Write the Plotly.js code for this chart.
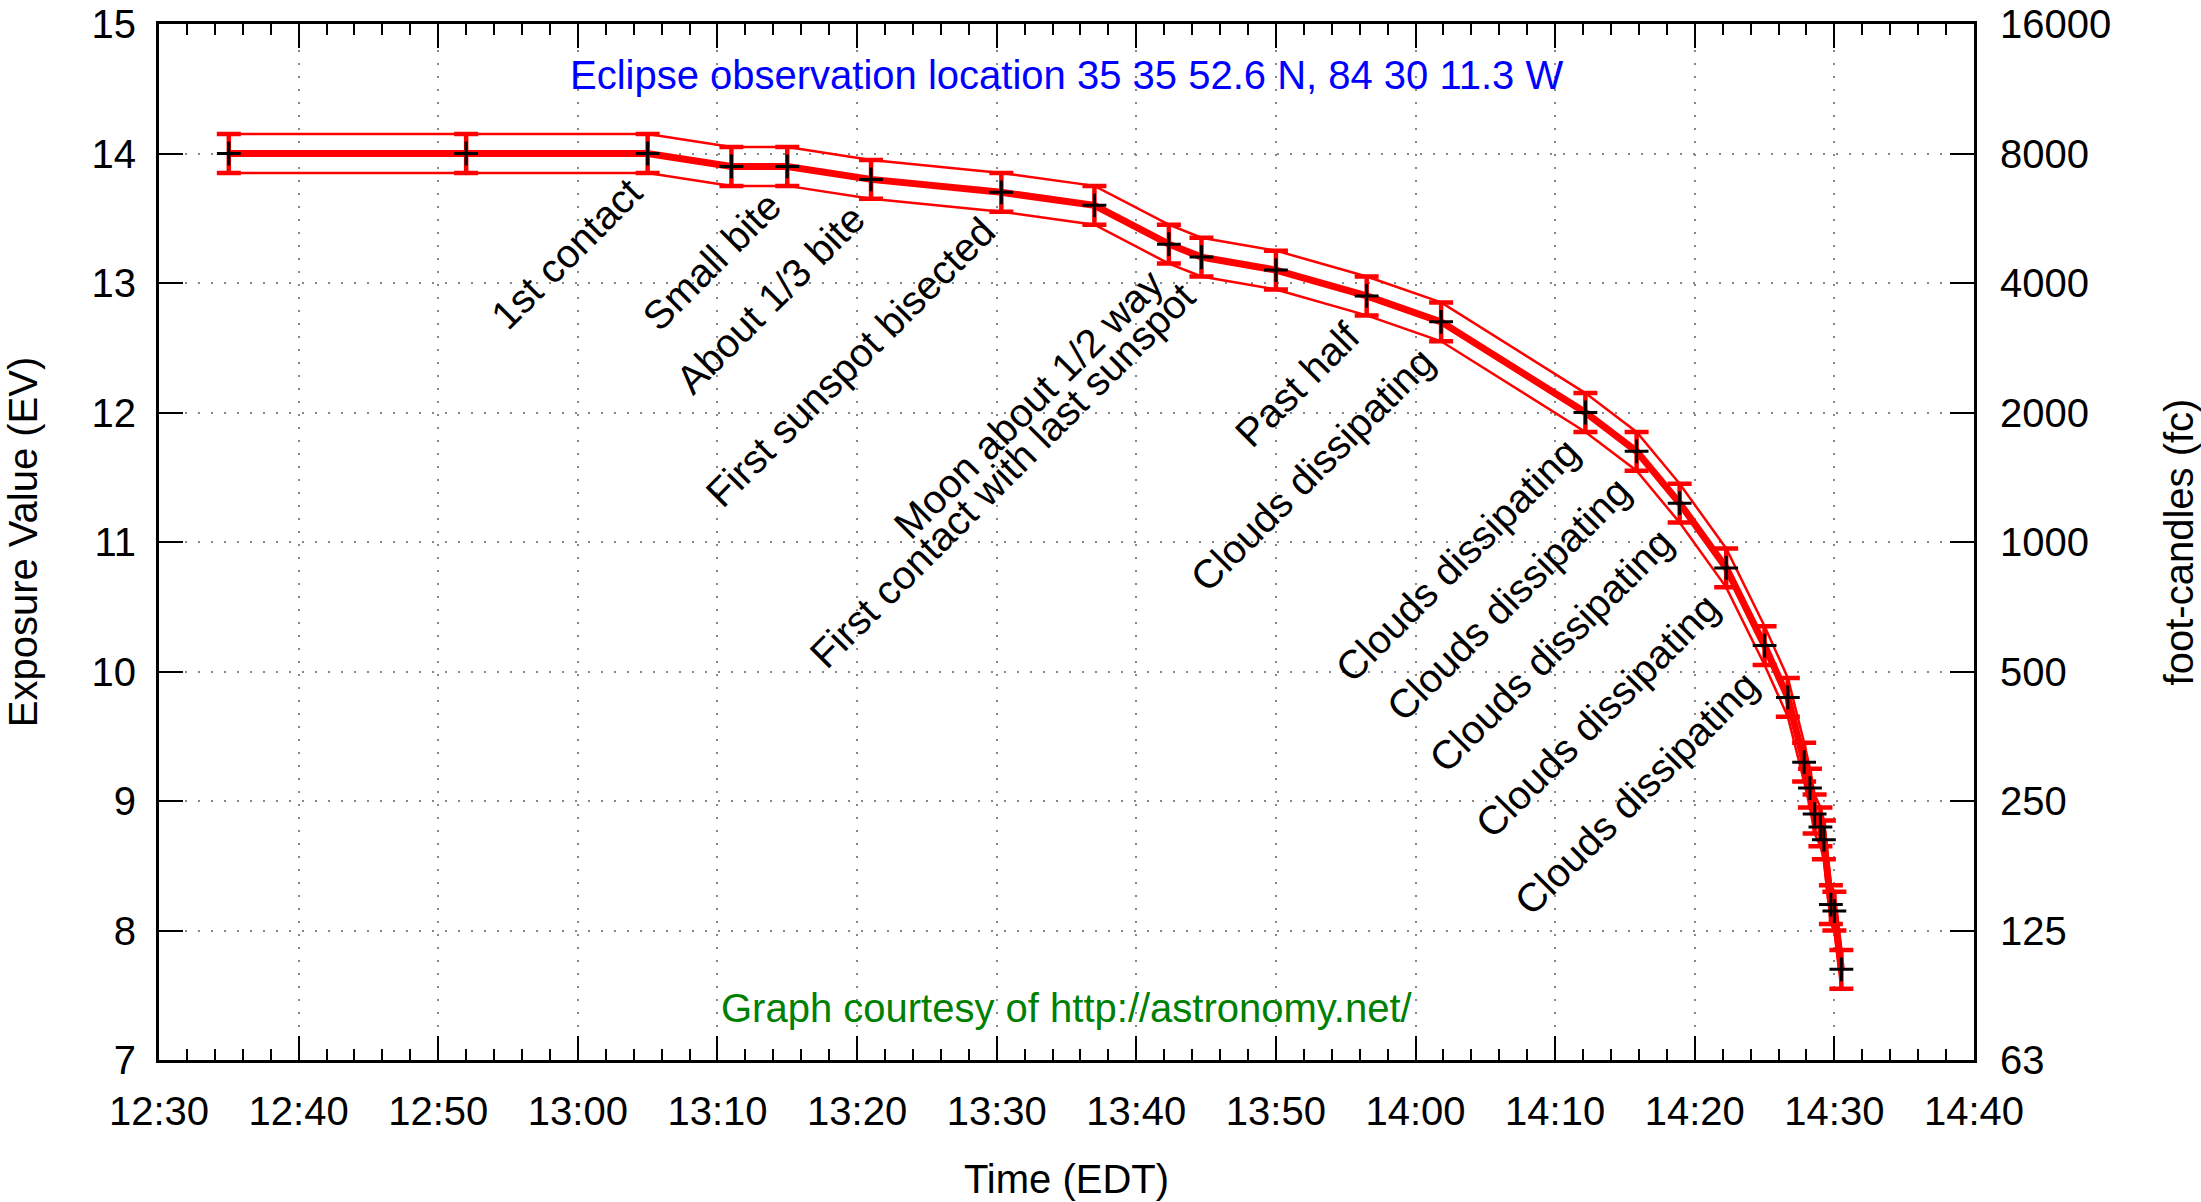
<!DOCTYPE html>
<html>
<head>
<meta charset="utf-8">
<script src="https://cdn.plot.ly/plotly-3.0.1.min.js"></script>
<style>html,body{margin:0;padding:0;background:#fff;}#chart{width:2201px;height:1202px;}</style>
</head>
<body>
<div id="chart"></div>
<script>
// ---- data ----
const obsDate = '2017-08-21';
const times = ['12:35:00','12:52:00','13:05:00','13:11:00','13:15:00','13:21:00','13:30:20','13:37:00',
  '13:42:20','13:44:40','13:50:00','13:56:30','14:01:50','14:12:10','14:15:50','14:18:55','14:22:15',
  '14:25:00','14:26:40','14:27:50','14:28:15','14:28:35','14:29:00','14:29:15','14:29:45','14:30:00','14:30:30'];
const ev = [14.0,14.0,14.0,13.9,13.9,13.8,13.7,13.6,13.3,13.2,13.1,12.9,12.7,12.0,11.7,11.3,10.8,
  10.2,9.8,9.3,9.1,8.9,8.8,8.7,8.2,8.15,7.7];
const evUncertainty = 0.15;
const noteText = ['1st contact','Small bite','About 1/3 bite','First sunspot bisected','Moon about 1/2 way',
  'First contact with last sunspot','Past half','Clouds dissipating','Clouds dissipating','Clouds dissipating',
  'Clouds dissipating','Clouds dissipating','Clouds dissipating'];
const noteIdx = [2,4,5,6,8,9,11,12,13,14,15,16,17];
const evTicks = [7,8,9,10,11,12,13,14,15];
const fcTickText = ['63','125','250','500','1000','2000','4000','8000','16000'];
const xRange = ['12:30:00','14:40:00'];

// ---- build ----
const xs = times.map(t => obsDate + ' ' + t);
const upper = ev.map(v => v + evUncertainty);
const lower = ev.map(v => v - evUncertainty);
const F = 'Liberation Sans, Arial, sans-serif';
const red = '#ff0000';

const traces = [
  {x: xs, y: upper, mode: 'lines', line: {color: red, width: 2.5}, hoverinfo: 'skip'},
  {x: xs, y: lower, mode: 'lines', line: {color: red, width: 2.5}, hoverinfo: 'skip'},
  {x: xs, y: ev, mode: 'lines', line: {color: red, width: 7},
   error_y: {type: 'constant', value: evUncertainty, color: red, thickness: 4.5, width: 12}},
  {x: xs, y: ev, mode: 'markers',
   marker: {symbol: 'cross-thin', size: 17, color: '#000', line: {color: '#000', width: 3}}},
  {x: [xs[0]], y: [ev[0]], yaxis: 'y2', mode: 'markers', marker: {opacity: 0}, hoverinfo: 'skip'}
];

const annotations = noteIdx.map((i, k) => ({
  x: xs[i], y: ev[i], xref: 'x', yref: 'y', text: noteText[k], showarrow: false,
  textangle: -45, xanchor: 'right', yanchor: 'top', xshift: 5, yshift: -14,
  font: {family: F, size: 40, color: '#000'}
}));
annotations.push({xref: 'paper', yref: 'paper', x: 0.5, y: 0.951, xanchor: 'center', yanchor: 'middle',
  showarrow: false, text: 'Eclipse observation location 35 35 52.6 N, 84 30 11.3 W',
  font: {family: F, size: 40, color: '#0000ff'}});
annotations.push({xref: 'paper', yref: 'paper', x: 0.5, y: 0.050, xanchor: 'center', yanchor: 'middle',
  showarrow: false, text: 'Graph courtesy of http://astronomy.net/',
  font: {family: F, size: 40, color: '#008000'}});

const gridDash = '2px,11px';
const layout = {
  width: 2201, height: 1202,
  margin: {l: 159, r: 227, t: 24, b: 142},
  paper_bgcolor: '#fff', plot_bgcolor: '#fff',
  showlegend: false,
  font: {family: F, size: 40, color: '#000'},
  xaxis: {
    type: 'date', range: xRange.map(t => obsDate + ' ' + t),
    tick0: obsDate + ' 12:30:00', dtick: 600000, tickformat: '%H:%M',
    ticks: 'inside', ticklen: 24, tickwidth: 2, tickcolor: '#000',
    minor: {dtick: 120000, ticks: 'inside', ticklen: 11, tickwidth: 2, tickcolor: '#000', showgrid: false},
    showline: true, linecolor: '#000', linewidth: 3, mirror: 'ticks',
    showgrid: true, gridcolor: '#888', gridwidth: 2, griddash: gridDash,
    zeroline: false, ticklabelstandoff: 14, ticklabeloverflow: 'allow',
    tickfont: {family: F, size: 40},
    title: {text: 'Time (EDT)', font: {family: F, size: 40}, standoff: 33}
  },
  yaxis: {
    range: [7, 15], tickvals: evTicks,
    ticks: 'inside', ticklen: 24, tickwidth: 2, tickcolor: '#000',
    showline: true, linecolor: '#000', linewidth: 3, mirror: 'ticks',
    showgrid: true, gridcolor: '#888', gridwidth: 2, griddash: gridDash,
    zeroline: false, ticklabelstandoff: 12, ticklabeloverflow: 'allow',
    tickfont: {family: F, size: 40},
    title: {text: 'Exposure Value (EV)', font: {family: F, size: 40}, standoff: 42}
  },
  yaxis2: {
    overlaying: 'y', side: 'right', range: [7, 15],
    tickvals: evTicks, ticktext: fcTickText, ticks: '',
    showgrid: false, zeroline: false, showline: false, ticklabelstandoff: 25, ticklabeloverflow: 'allow',
    tickfont: {family: F, size: 40},
    title: {text: 'foot-candles (fc)', font: {family: F, size: 40}, standoff: 80}
  },
  annotations: annotations
};

Plotly.newPlot('chart', traces, layout, {staticPlot: true, displayModeBar: false});
</script>
</body>
</html>
